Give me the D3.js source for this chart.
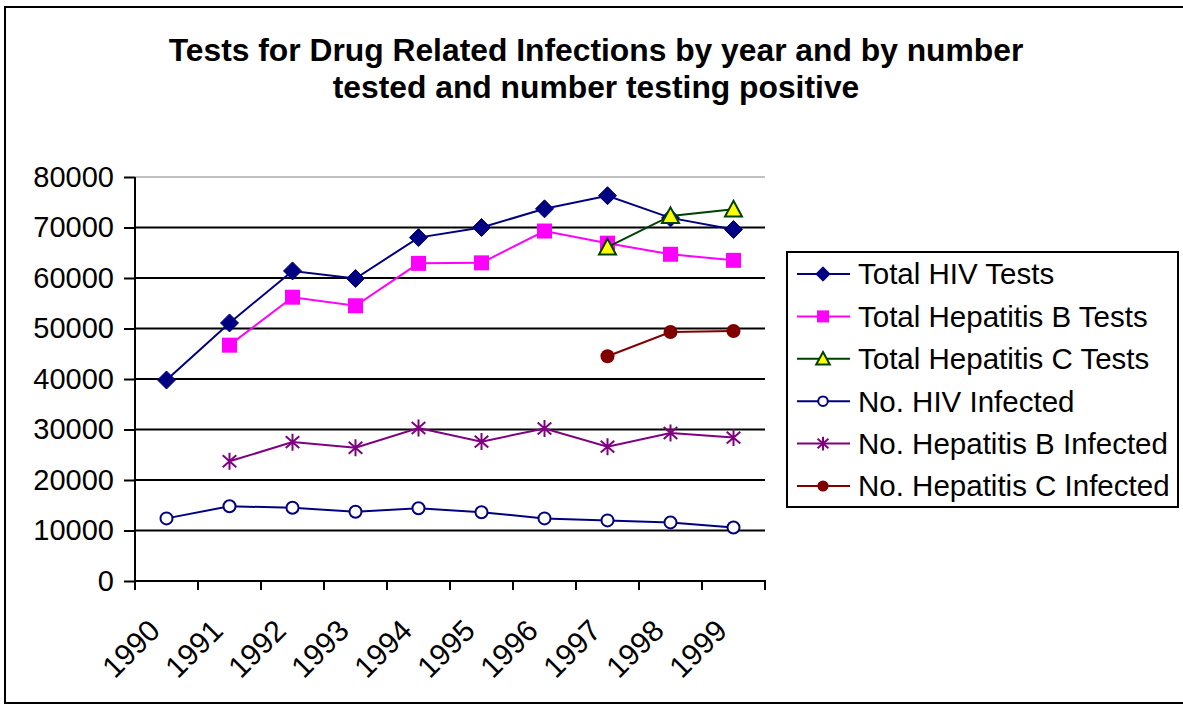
<!DOCTYPE html>
<html>
<head>
<meta charset="utf-8">
<script src="https://cdn.jsdelivr.net/npm/d3@7"></script>
<style>
  html, body { margin: 0; padding: 0; background: #fff; }
  svg { display: block; font-family: Arial, "Liberation Sans", sans-serif; }
</style>
</head>
<body>
<svg id="chart" width="1183" height="705"></svg>
<script>
// ---- data ----
const years = ["1990","1991","1992","1993","1994","1995","1996","1997","1998","1999"];
const totalHIVTests   = [39800, 51100, 61400, 59900, 68000, 70000, 73700, 76300, 71900, 69600];
const totalHepBTests  = [null, 46700, 56200, 54500, 62900, 63000, 69300, 66900, 64700, 63500];
const totalHepCTests  = [null, null, null, null, null, null, null, 66100, 72300, 73600];
const noHIVInfected   = [12400, 14800, 14500, 13700, 14400, 13600, 12400, 12000, 11600, 10600];
const noHepBInfected  = [null, 23700, 27500, 26400, 30300, 27600, 30200, 26600, 29300, 28400];
const noHepCInfected  = [null, null, null, null, null, null, null, 44500, 49300, 49500];
const yTicks = [0, 10000, 20000, 30000, 40000, 50000, 60000, 70000, 80000];
const titleLines = ["Tests for Drug Related Infections by year and by number", "tested and number testing positive"];

const series = [
  { name: "Total HIV Tests",          values: totalHIVTests,  color: "#000080", marker: "diamond" },
  { name: "Total Hepatitis B Tests",  values: totalHepBTests, color: "#FF00FF", marker: "square" },
  { name: "Total Hepatitis C Tests",  values: totalHepCTests, color: "#004000", marker: "triangle" },
  { name: "No. HIV Infected",         values: noHIVInfected,  color: "#000080", marker: "ocircle" },
  { name: "No. Hepatitis B Infected", values: noHepBInfected, color: "#800080", marker: "star" },
  { name: "No. Hepatitis C Infected", values: noHepCInfected, color: "#800000", marker: "circle" }
];

const svg = d3.select("#chart");

// outer border
svg.append("rect").attr("x", 5).attr("y", 7).attr("width", 1190).attr("height", 696)
  .attr("fill", "#fff").attr("stroke", "#000").attr("stroke-width", 2);

// title
svg.append("g").selectAll("text").data(titleLines).join("text")
  .attr("x", 596).attr("y", (d, i) => 61 + i * 37)
  .attr("text-anchor", "middle")
  .attr("font-weight", "bold").attr("font-size", 31.8)
  .text(d => d);

const x = d3.scaleBand().domain(years).range([135, 765]).padding(0);
const y = d3.scaleLinear().domain([0, 80000]).range([581, 177]);
const cx = d => x(d) + x.bandwidth() / 2;

// gridlines
svg.append("g").selectAll("line").data(yTicks.filter(t => t > 0)).join("line")
  .attr("x1", 135).attr("x2", 765)
  .attr("y1", d => y(d)).attr("y2", d => y(d))
  .attr("stroke", d => d === 80000 ? "#c0c0c0" : "#000")
  .attr("stroke-width", 2);

// y axis
const yAxis = d3.axisLeft(y).tickValues(yTicks).tickSize(11).tickPadding(10).tickFormat(d3.format("d"));
const gy = svg.append("g").attr("transform", "translate(135,0)").call(yAxis);
gy.select(".domain").attr("stroke-width", 2).attr("d", "M0,177V581");
gy.selectAll(".tick line").attr("stroke-width", 2);
gy.selectAll(".tick text").attr("font-size", 29).attr("font-family", "Arial, 'Liberation Sans', sans-serif").attr("fill", "#000");

// x axis: ticks at category boundaries
const xAxisG = svg.append("g");
xAxisG.append("line").attr("x1", 135).attr("x2", 766).attr("y1", 581).attr("y2", 581)
  .attr("stroke", "#000").attr("stroke-width", 2);
const bounds = years.map(d => x(d)).concat([x(years[years.length - 1]) + x.bandwidth()]);
xAxisG.selectAll("line.tk").data(bounds).join("line").attr("class", "tk")
  .attr("x1", d => d).attr("x2", d => d).attr("y1", 581).attr("y2", 590)
  .attr("stroke", "#000").attr("stroke-width", 2);
xAxisG.selectAll("text").data(years).join("text")
  .attr("transform", d => `translate(${cx(d) - 12},${625}) rotate(-45)`)
  .attr("text-anchor", "end").attr("dy", "0.35em")
  .attr("font-size", 30)
  .text(d => d);

// markers
function drawMarker(g, type, color, s) {
  const k = s || 1;
  if (type === "diamond") {
    const r = 9 * k;
    g.append("path").attr("d", `M0,${-r}L${r},0L0,${r}L${-r},0Z`).attr("fill", color).attr("stroke", color);
  } else if (type === "square") {
    const h = 7.5 * k;
    g.append("rect").attr("x", -h).attr("y", -h).attr("width", 2 * h).attr("height", 2 * h).attr("fill", color);
  } else if (type === "triangle") {
    const h = 8.5 * k;
    g.append("path").attr("d", `M0,${-h}L${h},${h * 0.85}L${-h},${h * 0.85}Z`)
      .attr("fill", "#FFFF00").attr("stroke", color).attr("stroke-width", 2);
  } else if (type === "ocircle") {
    g.append("circle").attr("r", 6 * k).attr("fill", "#fff").attr("stroke", color).attr("stroke-width", 2);
  } else if (type === "circle") {
    g.append("circle").attr("r", 7 * k).attr("fill", color);
  } else if (type === "star") {
    const r = 8.5 * k;
    g.append("path")
      .attr("d", `M0,${-r}V${r}M${-r * 0.8},${-r * 0.7}L${r * 0.8},${r * 0.7}M${-r * 0.8},${r * 0.7}L${r * 0.8},${-r * 0.7}`)
      .attr("stroke", color).attr("stroke-width", 2).attr("fill", "none");
  }
}

const line = d3.line().defined(d => d.v != null).x(d => cx(d.year)).y(d => y(d.v));
series.forEach(s => {
  const pts = years.map((yr, i) => ({ year: yr, v: s.values[i] }));
  const g = svg.append("g");
  g.append("path").datum(pts).attr("d", line)
    .attr("fill", "none").attr("stroke", s.color).attr("stroke-width", 2);
  pts.filter(p => p.v != null).forEach(p => {
    const mg = g.append("g").attr("transform", `translate(${cx(p.year)},${y(p.v)})`);
    drawMarker(mg, s.marker, s.color, 1);
  });
});

// legend
const lg = svg.append("g");
lg.append("rect").attr("x", 787).attr("y", 252).attr("width", 391).attr("height", 255)
  .attr("fill", "#fff").attr("stroke", "#000").attr("stroke-width", 2);
series.forEach((s, i) => {
  const ly = 274 + i * 42.4;
  const g = lg.append("g");
  g.append("line").attr("x1", 797).attr("x2", 850).attr("y1", ly).attr("y2", ly)
    .attr("stroke", s.color).attr("stroke-width", 2);
  const mg = g.append("g").attr("transform", `translate(823,${ly})`);
  drawMarker(mg, s.marker, s.color, 0.8);
  g.append("text").attr("x", 858).attr("y", ly).attr("dy", "0.35em")
    .attr("font-size", 29.5).text(s.name);
});
</script>
</body>
</html>
